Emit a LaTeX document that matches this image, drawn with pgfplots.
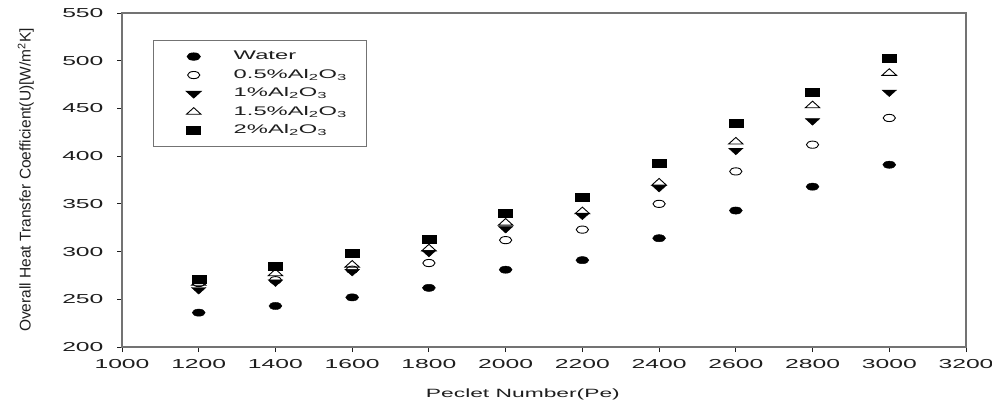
\documentclass[border=0pt]{standalone}
\usepackage{pgfplots}
\pgfplotsset{compat=1.18}
\usepackage{fontspec}
\setmainfont{Liberation Sans}[FakeStretch=1.9]
\newfontfamily\ylabfont{Liberation Sans}
\definecolor{txt}{RGB}{30,30,30}
\definecolor{frame}{RGB}{115,115,115}
\pgfplotstableread{
x water c05 c1 c15 c2
1200 236 267 260 267 271
1400 243 270 268 277 285
1600 252 281 279 286 298
1800 262 288 299 303 313
2000 281 312 324 330 340
2200 291 323 338 342 357
2400 314 350 367 372 393
2600 343 384 406 415 434
2800 368 412 437 453 467
3000 391 440 467 487 503
}\datatable
\begin{document}
\begin{tikzpicture}[x=1pt,y=1pt]
\path[use as bounding box] (0,0) rectangle (992,405);
\begin{axis}[
  at={(122pt,58pt)}, anchor=south west,
  scale only axis, width=844pt, height=334pt,
  xmin=1000, xmax=3200, ymin=200, ymax=550,
  xtick={1000,1200,...,3200}, ytick={200,250,...,550},
  tick align=outside, tick pos=left, major tick length=5pt,
  axis line style={draw=frame, line width=1.2pt},
  every tick/.style={draw=txt, line width=0.9pt},
  /pgf/number format/assume math mode=true,
  /pgf/number format/1000 sep={},
  tick label style={font=\fontsize{13}{15}\selectfont, text=txt},
  xticklabel style={yshift=-4pt},
  yticklabel style={xshift=-10pt},
  xlabel={Peclet Number(Pe)},
  xlabel style={font=\fontsize{12}{14}\selectfont, text=txt, at={(axis description cs:0.475,-0.115)}, anchor=north},
  ylabel={\ylabfont Overall Heat Transfer Coefficient(U)[W/m\textsuperscript{2}K]},
  ylabel style={font=\fontsize{15.5}{17}\selectfont, text=txt, at={(axis description cs:-0.114,0.5)}, anchor=center},
  legend style={at={(axis description cs:0.037,0.919)}, anchor=north west,
    draw=frame, line width=1pt, fill=white,
    inner xsep=20pt, inner ysep=10pt, row sep=6.5pt, column sep=20pt,
    font=\fontsize{12.5}{14}\selectfont, text=txt,
    nodes={inner sep=0pt, text height=9pt, text depth=3pt, line width=1pt}},
  legend cell align=left,
  legend image code/.code={\path[draw=none,fill=none] (0pt,-4pt) rectangle (40pt,4pt); \draw[#1,mark repeat=2,mark phase=2] plot coordinates {(0pt,0pt) (20pt,0pt) (40pt,0pt)};},
]
\addplot[only marks, mark=*, mark size=3.6pt, mark options={xscale=1.8, fill=black, draw=black}] table[x=x,y=water]{\datatable};
\addlegendentry{Water}
\addplot[only marks, mark=o, mark size=3.6pt, mark options={xscale=1.7, draw=black, fill=white, line width=0.9pt}] table[x=x,y=c05]{\datatable};
\addlegendentry{0.5\%Al\textsubscript{2}O\textsubscript{3}}
\addplot[only marks, mark=triangle*, mark size=4.4pt, mark options={rotate=180, xscale=1.9, fill=black, draw=black}] table[x=x,y=c1]{\datatable};
\addlegendentry{1\%Al\textsubscript{2}O\textsubscript{3}}
\addplot[only marks, mark=triangle, mark size=4.4pt, mark options={xscale=1.9, draw=black, fill=white, line width=0.9pt}] table[x=x,y=c15]{\datatable};
\addlegendentry{1.5\%Al\textsubscript{2}O\textsubscript{3}}
\addplot[only marks, mark=square*, mark size=4pt, mark options={xscale=1.75, fill=black, draw=black}] table[x=x,y=c2]{\datatable};
\addlegendentry{2\%Al\textsubscript{2}O\textsubscript{3}}
\end{axis}
\end{tikzpicture}
\end{document}
